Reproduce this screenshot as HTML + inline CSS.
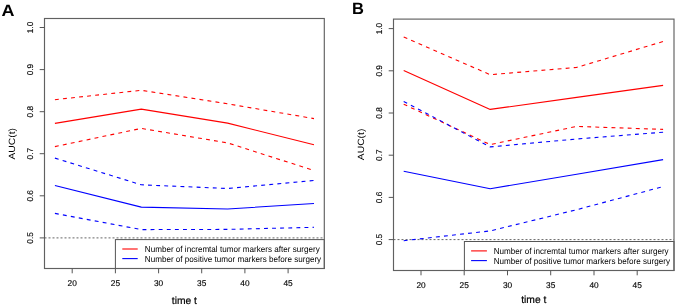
<!DOCTYPE html>
<html><head><meta charset="utf-8"><style>
html,body{margin:0;padding:0;background:#fff;width:676px;height:306px;overflow:hidden}
svg{display:block;will-change:transform}
text{text-rendering:geometricPrecision;font-family:"Liberation Sans",sans-serif;fill:#000;stroke:#000;stroke-width:0.25px}
.tk{font-size:8.3px;stroke-width:0.15px}
.lg{font-size:8.6px;stroke:none}
.ti{font-size:10.3px;stroke:none}
.tx{stroke:#000;stroke-width:0.2px}
.pl{font-size:16.5px;font-weight:bold;fill:#000;stroke:none}
</style></head><body>
<svg width="676" height="306" viewBox="0 0 676 306">

<line x1="44.5" y1="237.9" x2="324.3" y2="237.9" stroke="#666" stroke-width="1" stroke-dasharray="2 2"/>
<polyline points="54.9,123.4 141.3,109.1 227.6,123.1 314.0,144.8" fill="none" stroke="#ff0000" stroke-width="1.1" stroke-linejoin="round"/>
<polyline points="54.9,99.7 141.3,90.3 227.6,103.8 314.0,118.6" fill="none" stroke="#ff0000" stroke-width="1.1" stroke-dasharray="3.9 4.2" stroke-linejoin="round"/>
<polyline points="54.9,146.6 141.3,128.4 227.6,142.9 314.0,170.5" fill="none" stroke="#ff0000" stroke-width="1.1" stroke-dasharray="3.9 4.2" stroke-linejoin="round"/>
<polyline points="54.9,185.5 141.3,207.1 227.6,209.0 314.0,203.5" fill="none" stroke="#0000ff" stroke-width="1.1" stroke-linejoin="round"/>
<polyline points="54.9,158.1 141.3,184.8 227.6,188.5 314.0,180.5" fill="none" stroke="#0000ff" stroke-width="1.1" stroke-dasharray="3.9 4.2" stroke-linejoin="round"/>
<polyline points="54.9,213.4 141.3,229.6 227.6,229.4 314.0,227.3" fill="none" stroke="#0000ff" stroke-width="1.1" stroke-dasharray="3.9 4.2" stroke-linejoin="round"/>
<rect x="115.4" y="239.6" width="208.9" height="28.900000000000006" fill="#fff" stroke="#555" stroke-width="1"/>
<line x1="122.3" y1="249.0" x2="137.7" y2="249.0" stroke="#ff0000" stroke-width="1.1"/>
<line x1="122.3" y1="258.6" x2="137.7" y2="258.6" stroke="#0000ff" stroke-width="1.1"/>
<text class="lg" transform="translate(144.8,252.2) scale(0.9418604651162791,1)">Number of incremtal tumor markers after surgery</text>
<text class="lg" transform="translate(144.8,261.8) scale(0.9418604651162791,1)">Number of positive tumor markers before surgery</text>
<rect x="44.5" y="18.5" width="279.8" height="250.0" fill="none" stroke="#606060" stroke-width="1.15"/>
<line x1="39.7" y1="27.5" x2="44.5" y2="27.5" stroke="#555" stroke-width="1"/>
<text class="tk" text-anchor="middle" transform="translate(33.2,27.5) rotate(-90)">1.0</text>
<line x1="39.7" y1="69.6" x2="44.5" y2="69.6" stroke="#555" stroke-width="1"/>
<text class="tk" text-anchor="middle" transform="translate(33.2,69.6) rotate(-90)">0.9</text>
<line x1="39.7" y1="111.7" x2="44.5" y2="111.7" stroke="#555" stroke-width="1"/>
<text class="tk" text-anchor="middle" transform="translate(33.2,111.7) rotate(-90)">0.8</text>
<line x1="39.7" y1="153.7" x2="44.5" y2="153.7" stroke="#555" stroke-width="1"/>
<text class="tk" text-anchor="middle" transform="translate(33.2,153.7) rotate(-90)">0.7</text>
<line x1="39.7" y1="195.8" x2="44.5" y2="195.8" stroke="#555" stroke-width="1"/>
<text class="tk" text-anchor="middle" transform="translate(33.2,195.8) rotate(-90)">0.6</text>
<line x1="39.7" y1="237.9" x2="44.5" y2="237.9" stroke="#555" stroke-width="1"/>
<text class="tk" text-anchor="middle" transform="translate(33.2,237.9) rotate(-90)">0.5</text>
<line x1="72.2" y1="268.5" x2="72.2" y2="273.3" stroke="#555" stroke-width="1"/>
<text class="tk" text-anchor="middle" x="72.2" y="286.0">20</text>
<line x1="115.4" y1="268.5" x2="115.4" y2="273.3" stroke="#555" stroke-width="1"/>
<text class="tk" text-anchor="middle" x="115.4" y="286.0">25</text>
<line x1="158.6" y1="268.5" x2="158.6" y2="273.3" stroke="#555" stroke-width="1"/>
<text class="tk" text-anchor="middle" x="158.6" y="286.0">30</text>
<line x1="201.7" y1="268.5" x2="201.7" y2="273.3" stroke="#555" stroke-width="1"/>
<text class="tk" text-anchor="middle" x="201.7" y="286.0">35</text>
<line x1="244.9" y1="268.5" x2="244.9" y2="273.3" stroke="#555" stroke-width="1"/>
<text class="tk" text-anchor="middle" x="244.9" y="286.0">40</text>
<line x1="288.1" y1="268.5" x2="288.1" y2="273.3" stroke="#555" stroke-width="1"/>
<text class="tk" text-anchor="middle" x="288.1" y="286.0">45</text>
<text class="ti tx" text-anchor="middle" x="184.4" y="304.0">time t</text>
<text class="ti" text-anchor="middle" transform="translate(14.6,143.8) rotate(-90) scale(1,0.88)">AUC(t)</text>
<text class="pl" transform="translate(1.45,15.9) scale(1.09,1)">A</text>
<line x1="393.5" y1="239.6" x2="674.0" y2="239.6" stroke="#666" stroke-width="1" stroke-dasharray="2 2"/>
<polyline points="403.7,70.5 490.2,109.4 576.7,97.4 663.1,85.4" fill="none" stroke="#ff0000" stroke-width="1.1" stroke-linejoin="round"/>
<polyline points="403.7,37.0 490.2,74.7 576.7,67.4 663.1,41.5" fill="none" stroke="#ff0000" stroke-width="1.1" stroke-dasharray="3.9 4.2" stroke-linejoin="round"/>
<polyline points="403.7,104.2 490.2,144.6 576.7,126.4 663.1,129.4" fill="none" stroke="#ff0000" stroke-width="1.1" stroke-dasharray="3.9 4.2" stroke-linejoin="round"/>
<polyline points="403.7,171.3 490.2,188.7 576.7,174.2 663.1,159.6" fill="none" stroke="#0000ff" stroke-width="1.1" stroke-linejoin="round"/>
<polyline points="403.7,101.5 490.2,146.9 576.7,139.0 663.1,132.2" fill="none" stroke="#0000ff" stroke-width="1.1" stroke-dasharray="3.9 4.2" stroke-linejoin="round"/>
<polyline points="403.7,240.7 490.2,230.9 576.7,209.7 663.1,186.6" fill="none" stroke="#0000ff" stroke-width="1.1" stroke-dasharray="3.9 4.2" stroke-linejoin="round"/>
<rect x="464.4" y="241.5" width="209.60000000000002" height="29.0" fill="#fff" stroke="#555" stroke-width="1"/>
<line x1="471.1" y1="250.9" x2="486.9" y2="250.9" stroke="#ff0000" stroke-width="1.1"/>
<line x1="471.1" y1="260.6" x2="486.9" y2="260.6" stroke="#0000ff" stroke-width="1.1"/>
<text class="lg" transform="translate(493.7,254.1) scale(0.9418604651162791,1)">Number of incremtal tumor markers after surgery</text>
<text class="lg" transform="translate(493.7,263.8) scale(0.9418604651162791,1)">Number of positive tumor markers before surgery</text>
<rect x="393.5" y="19.1" width="280.5" height="251.4" fill="none" stroke="#606060" stroke-width="1.15"/>
<line x1="388.7" y1="28.6" x2="393.5" y2="28.6" stroke="#555" stroke-width="1"/>
<text class="tk" text-anchor="middle" transform="translate(382.2,28.6) rotate(-90)">1.0</text>
<line x1="388.7" y1="70.8" x2="393.5" y2="70.8" stroke="#555" stroke-width="1"/>
<text class="tk" text-anchor="middle" transform="translate(382.2,70.8) rotate(-90)">0.9</text>
<line x1="388.7" y1="113.0" x2="393.5" y2="113.0" stroke="#555" stroke-width="1"/>
<text class="tk" text-anchor="middle" transform="translate(382.2,113.0) rotate(-90)">0.8</text>
<line x1="388.7" y1="155.2" x2="393.5" y2="155.2" stroke="#555" stroke-width="1"/>
<text class="tk" text-anchor="middle" transform="translate(382.2,155.2) rotate(-90)">0.7</text>
<line x1="388.7" y1="197.4" x2="393.5" y2="197.4" stroke="#555" stroke-width="1"/>
<text class="tk" text-anchor="middle" transform="translate(382.2,197.4) rotate(-90)">0.6</text>
<line x1="388.7" y1="239.6" x2="393.5" y2="239.6" stroke="#555" stroke-width="1"/>
<text class="tk" text-anchor="middle" transform="translate(382.2,239.6) rotate(-90)">0.5</text>
<line x1="421.0" y1="270.5" x2="421.0" y2="275.3" stroke="#555" stroke-width="1"/>
<text class="tk" text-anchor="middle" x="421.0" y="287.5">20</text>
<line x1="464.2" y1="270.5" x2="464.2" y2="275.3" stroke="#555" stroke-width="1"/>
<text class="tk" text-anchor="middle" x="464.2" y="287.5">25</text>
<line x1="507.5" y1="270.5" x2="507.5" y2="275.3" stroke="#555" stroke-width="1"/>
<text class="tk" text-anchor="middle" x="507.5" y="287.5">30</text>
<line x1="550.7" y1="270.5" x2="550.7" y2="275.3" stroke="#555" stroke-width="1"/>
<text class="tk" text-anchor="middle" x="550.7" y="287.5">35</text>
<line x1="594.0" y1="270.5" x2="594.0" y2="275.3" stroke="#555" stroke-width="1"/>
<text class="tk" text-anchor="middle" x="594.0" y="287.5">40</text>
<line x1="637.2" y1="270.5" x2="637.2" y2="275.3" stroke="#555" stroke-width="1"/>
<text class="tk" text-anchor="middle" x="637.2" y="287.5">45</text>
<text class="ti tx" text-anchor="middle" x="533.75" y="303.0">time t</text>
<text class="ti" text-anchor="middle" transform="translate(363.8,144.4) rotate(-90) scale(1,0.88)">AUC(t)</text>
<text class="pl" transform="translate(352,13.9) scale(1.0,1)">B</text>
</svg></body></html>
